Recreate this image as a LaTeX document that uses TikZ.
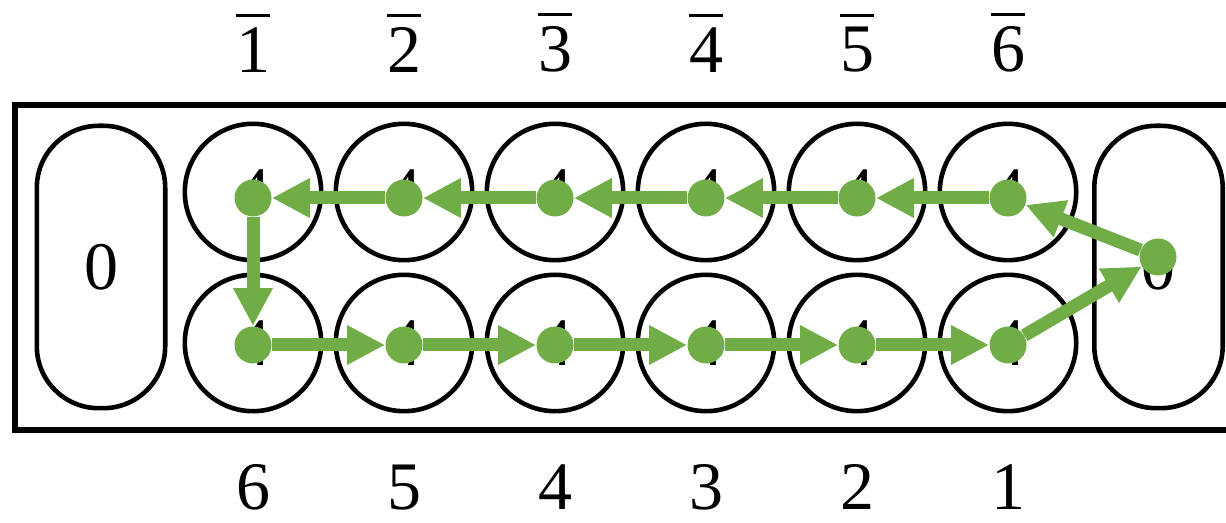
\documentclass[tikz,border=0pt]{standalone}
\usepackage{fontspec}
\setmainfont{Liberation Serif}
\usepackage{xcolor}
\usepackage{tikz}
\usetikzlibrary{arrows.meta,positioning}
\definecolor{leaf}{HTML}{70AD47}
\newcommand{\barnum}[1]{\vbox{\hrule height 1.7pt \kern 5pt \hbox{#1}}}

\begin{document}
\begin{tikzpicture}[
  x=0.5pt,y=-0.5pt,
  node distance=5pt,
  pit/.style={circle,draw,line width=2.3pt,minimum size=68.2pt,inner sep=0pt,font=\rmfamily\fontsize{34}{40}\selectfont},
  store/.style={draw,line width=2.3pt,rounded corners=31pt,minimum width=64.2pt,minimum height=141.2pt,inner sep=0pt,font=\rmfamily\fontsize{34}{40}\selectfont},
  seed/.style={circle,fill=leaf,minimum size=18.5pt,inner sep=0pt},
  lbl/.style={inner sep=0pt,font=\rmfamily\fontsize{34}{40}\selectfont},
  move/.style={-{Triangle[length=19pt,width=18.5pt]},line width=6.5pt,draw=leaf}
]
\path[use as bounding box,clip] (0,0) rectangle (1226,523);
\draw[line width=2.8pt] (15,105) rectangle (1240,430);
% pits, upper and lower row
\node[pit] (pa1) at (253,192) {4};
\node[pit,right=of pa1] (pa2) {4};
\node[pit,right=of pa2] (pa3) {4};
\node[pit,right=of pa3] (pa4) {4};
\node[pit,right=of pa4] (pa5) {4};
\node[pit,right=of pa5] (pa6) {4};
\node[pit,below=of pa1] (pb1) {4};
\node[pit,right=of pb1] (pb2) {4};
\node[pit,right=of pb2] (pb3) {4};
\node[pit,right=of pb3] (pb4) {4};
\node[pit,right=of pb4] (pb5) {4};
\node[pit,right=of pb5] (pb6) {4};
% stores
\node[store] (sl) at (101,267) {0};
\node[store] (sr) at (1158.5,267) {0};
% labels
\node[lbl,above=24.5pt of pa1] (la1) {\barnum{1}};
\node[lbl,above=24.5pt of pa2] (la2) {\barnum{2}};
\node[lbl,above=24.5pt of pa3] (la3) {\barnum{3}};
\node[lbl,above=24.5pt of pa4] (la4) {\barnum{4}};
\node[lbl,above=24.5pt of pa5] (la5) {\barnum{5}};
\node[lbl,above=24.5pt of pa6] (la6) {\barnum{6}};
\node[lbl,below=25.5pt of pb1] (lb1) {6};
\node[lbl,below=25.5pt of pb2] (lb2) {5};
\node[lbl,below=25.5pt of pb3] (lb3) {4};
\node[lbl,below=25.5pt of pb4] (lb4) {3};
\node[lbl,below=25.5pt of pb5] (lb5) {2};
\node[lbl,below=25.5pt of pb6] (lb6) {1};
% seeds
\node[seed] (sa1) at ([yshift=-3pt]pa1) {};
\node[seed] (sa2) at ([yshift=-3pt]pa2) {};
\node[seed] (sa3) at ([yshift=-3pt]pa3) {};
\node[seed] (sa4) at ([yshift=-3pt]pa4) {};
\node[seed] (sa5) at ([yshift=-3pt]pa5) {};
\node[seed] (sa6) at ([yshift=-3pt]pa6) {};
\node[seed] (sb1) at ([yshift=-1pt]pb1) {};
\node[seed] (sb2) at ([yshift=-1pt]pb2) {};
\node[seed] (sb3) at ([yshift=-1pt]pb3) {};
\node[seed] (sb4) at ([yshift=-1pt]pb4) {};
\node[seed] (sb5) at ([yshift=-1pt]pb5) {};
\node[seed] (sb6) at ([yshift=-1pt]pb6) {};
\node[seed] (sx) at ([xshift=-0.25pt,yshift=5pt]sr) {};
% sowing path
\draw[move] (sx)--(sa6);
\draw[move] (sa6)--(sa5);
\draw[move] (sa5)--(sa4);
\draw[move] (sa4)--(sa3);
\draw[move] (sa3)--(sa2);
\draw[move] (sa2)--(sa1);
\draw[move] (sa1)--(sb1);
\draw[move] (sb1)--(sb2);
\draw[move] (sb2)--(sb3);
\draw[move] (sb3)--(sb4);
\draw[move] (sb4)--(sb5);
\draw[move] (sb5)--(sb6);
\draw[move] (sb6)--(sx);
\end{tikzpicture}
\end{document}
